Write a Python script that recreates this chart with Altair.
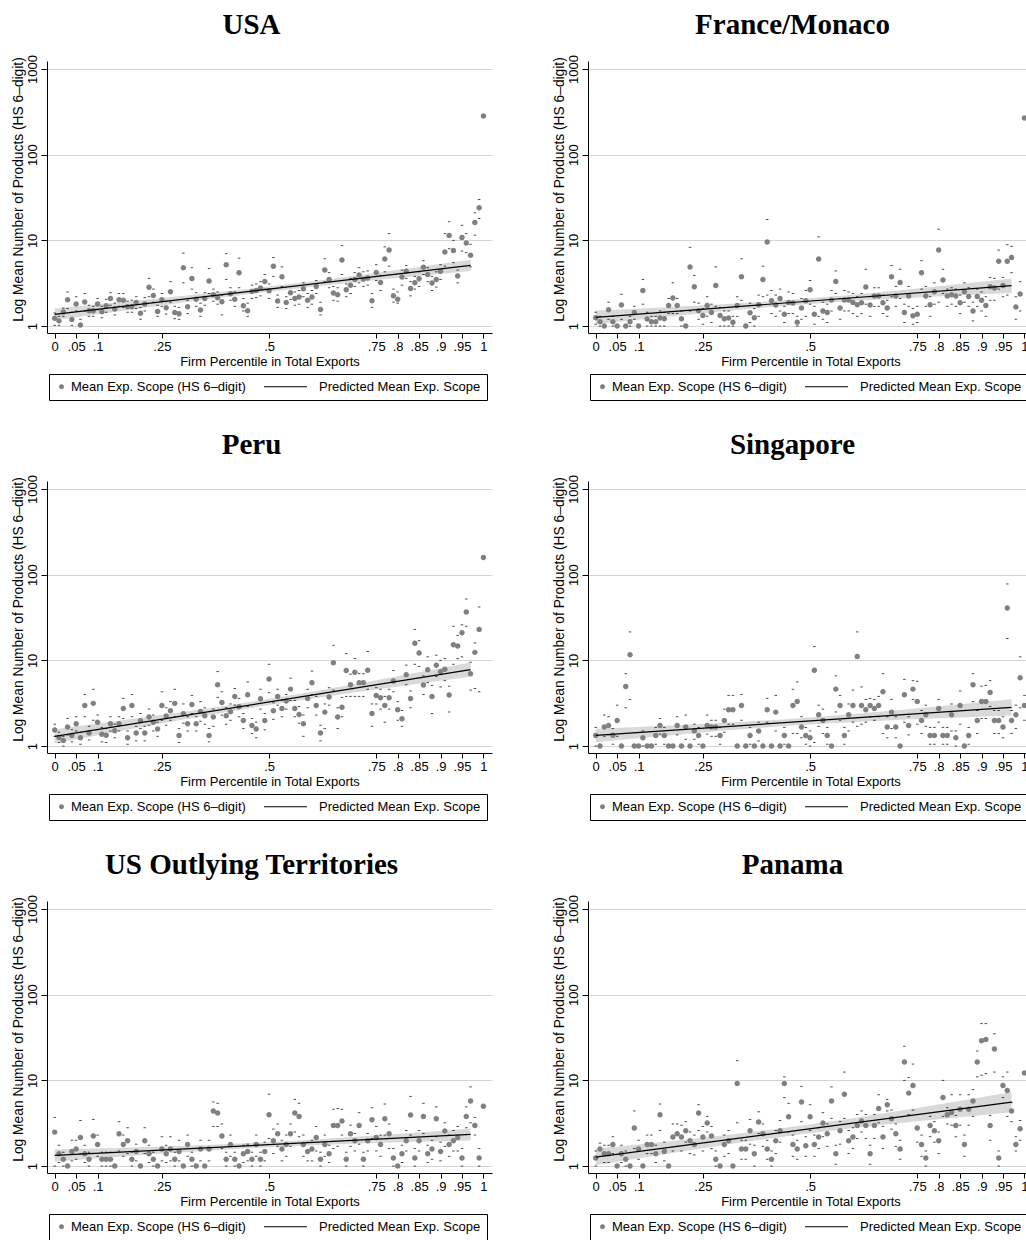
import altair as alt
import pandas as pd

# Firm percentile grid (0, .01, ..., 1)
PCT = [i / 100 for i in range(101)]

X_TICKS = [0, 0.05, 0.1, 0.25, 0.5, 0.75, 0.8, 0.85, 0.9, 0.95, 1]
Y_TICKS = [1, 10, 100, 1000]
FIT_X = [0, 0.97]
BAND_X = [0, 0.485, 0.97]

DOT_LABEL = "Mean Exp. Scope (HS 6–digit)"
FIT_LABEL = "Predicted Mean Exp. Scope"
X_TITLE = "Firm Percentile in Total Exports"
Y_TITLE = "Log Mean Number of Products (HS 6–digit)"

NAMES = ["USA", "France/Monaco", "Peru", "Singapore",
         "US Outlying Territories", "Panama"]

# ---------------- USA ----------------
USA_MEAN = [1.23, 1.15, 1.46, 2.03, 1.19, 1.81, 1.03, 1.91, 1.51, 1.51,
            1.81, 1.47, 1.73, 2.1, 1.58, 2.03, 2.0, 1.68, 1.68, 1.89,
            1.41, 1.81, 2.83, 2.28, 1.48, 2.03, 1.64, 2.52, 1.44, 1.39,
            4.8, 1.68, 3.6, 2.06, 1.54, 2.1, 3.35, 2.32, 2.14, 1.92,
            5.2, 2.38, 2.06, 4.19, 1.73, 1.51, 2.54, 2.6, 2.78, 3.32,
            2.58, 5.0, 1.96, 3.76, 1.89, 2.45, 2.1, 2.18, 2.73, 2.0,
            2.18, 2.9, 1.56, 4.5, 3.5, 2.43, 2.32, 5.9, 2.65, 3.0,
            3.5, 3.94, 3.53, 3.63, 1.98, 4.23, 3.23, 6.05, 7.7, 2.26,
            2.06, 3.73, 4.35, 2.75, 3.2, 3.57, 4.85, 4.0, 3.18, 3.5,
            4.35, 7.3, 11.4, 7.6, 3.83, 10.8, 9.3, 6.7, 16.2, 24,
            283]
USA_HI = [1.42, 1.3, 1.62, 2.5, 1.45, 2.2, 1.2, 2.4, 1.75, 1.7,
          2.1, 1.7, 2.05, 2.45, 1.85, 2.4, 2.4, 1.95, 2.0, 2.2,
          1.65, 2.15, 3.6, 2.7, 1.75, 2.4, 1.95, 3.3, 1.7, 1.65,
          7.1, 2.0, 4.8, 2.45, 1.85, 2.45, 4.7, 2.7, 2.5, 2.3,
          7.0, 2.8, 2.5, 6.2, 2.1, 1.85, 3.0, 3.1, 3.3, 4.0,
          3.1, 6.3, 2.3, 4.9, 2.2, 2.9, 2.5, 2.6, 3.2, 2.4,
          2.6, 3.4, 1.9, 6.1, 4.2, 2.9, 2.8, 8.7, 3.1, 3.6,
          4.2, 4.8, 4.3, 4.4, 2.4, 5.2, 3.9, 8.4, 12, 2.7,
          2.5, 4.5, 5.1, 3.3, 3.8, 4.3, 5.8, 4.8, 3.8, 4.3,
          5.2, 12, 16.5, 10, 4.5, 15, 12, 9, 21, 30,
          283]
USA_LO = [1.02, 1.02, 1.3, 1.6, 1.02, 1.5, 1.0, 1.5, 1.3, 1.3,
          1.55, 1.25, 1.45, 1.75, 1.35, 1.7, 1.65, 1.45, 1.45, 1.6,
          1.2, 1.5, 2.2, 1.9, 1.3, 1.7, 1.38, 1.9, 1.22, 1.2,
          3.2, 1.4, 2.7, 1.7, 1.3, 1.75, 2.4, 1.95, 1.8, 1.35,
          3.5, 2.0, 1.7, 2.8, 1.5, 1.3, 2.1, 2.15, 2.25, 2.7,
          2.1, 3.8, 1.65, 2.9, 1.6, 2.05, 1.75, 1.8, 2.2, 1.65,
          1.8, 2.4, 1.35, 3.3, 2.8, 2.0, 1.95, 4.0, 2.2, 2.4,
          2.9, 3.2, 2.9, 3.0, 1.65, 3.4, 2.6, 4.3, 5.0, 1.9,
          1.85, 3.0, 3.6, 2.25, 2.7, 2.9, 4.0, 3.3, 2.6, 2.85,
          3.5, 5.0, 8.0, 5.5, 3.2, 7.5, 7.2, 4.9, 11.5, 18,
          283]
USA_FIT = [1.37, 5.11]
USA_BAND_LO = [1.17, 2.47, 4.38]
USA_BAND_HI = [1.60, 2.84, 5.96]

# ---------------- France/Monaco ----------------
FRA_MEAN = [1.25, 1.12, 1.0, 1.55, 1.12, 1.0, 1.76, 1.0, 1.12, 1.44,
            1.0, 2.6, 1.21, 1.12, 1.12, 1.24, 1.22, 1.74, 2.12, 1.74,
            1.22, 1.0, 4.9, 2.88, 1.51, 1.33, 1.74, 1.44, 2.98, 1.33,
            1.22, 1.24, 1.11, 1.74, 3.76, 1.0, 1.43, 1.25, 1.77, 3.5,
            9.6, 1.98, 1.76, 2.1, 1.37, 1.89, 1.86, 1.11, 1.62, 1.98,
            2.65, 1.37, 6.05, 1.5, 1.44, 2.01, 3.32, 1.62, 2.01, 2.01,
            1.89, 1.77, 1.87, 2.85, 1.76, 2.24, 2.24, 1.87, 1.62, 3.76,
            2.24, 3.23, 1.44, 2.24, 1.32, 1.37, 4.19, 2.24, 1.77, 2.52,
            7.7, 3.44, 2.24, 2.32, 2.24, 1.87, 2.52, 2.22, 1.5, 2.22,
            2.0, 1.74, 2.88, 2.78, 5.7, 2.98, 5.7, 6.3, 1.67, 2.36,
            268]
FRA_HI = [1.45, 1.3, 1.0, 1.9, 1.3, 1.0, 2.35, 1.0, 1.3, 1.7,
          1.0, 3.5, 1.45, 1.3, 1.3, 1.5, 1.45, 2.1, 3.2, 2.1,
          1.5, 1.0, 8.3, 3.9, 1.85, 1.6, 2.2, 1.8, 4.9, 1.65,
          1.5, 1.5, 1.3, 2.2, 6.1, 1.0, 1.85, 1.6, 2.3, 5.0,
          17.5, 2.6, 2.3, 2.7, 1.7, 2.5, 2.4, 1.3, 2.1, 2.6,
          3.4, 1.7, 11, 1.9, 1.8, 2.6, 4.4, 2.1, 2.6, 2.5,
          2.4, 2.2, 2.4, 4.6, 2.2, 2.8, 2.8, 2.3, 2.0, 5.1,
          2.9, 4.6, 1.8, 2.9, 1.6, 1.7, 5.8, 2.9, 2.2, 3.2,
          13.5, 4.6, 2.7, 2.8, 2.7, 2.3, 3.2, 2.8, 1.9, 2.7,
          2.5, 2.2, 3.7, 3.6, 7.7, 3.7, 8.9, 8.5, 2.2, 3.3,
          268]
FRA_LO = [1.05, 1.0, 1.0, 1.2, 1.0, 1.0, 1.2, 1.0, 1.0, 1.2,
          1.0, 1.8, 1.0, 1.0, 1.0, 1.0, 1.0, 1.4, 1.4, 1.4,
          1.0, 1.0, 1.5, 1.9, 1.2, 1.05, 1.3, 1.1, 1.7, 1.0,
          1.0, 1.0, 1.0, 1.3, 2.0, 1.0, 1.1, 1.0, 1.3, 2.2,
          2.3, 1.4, 1.3, 1.5, 1.1, 1.4, 1.4, 1.0, 1.2, 1.3,
          1.8, 1.05, 1.3, 1.2, 1.1, 1.5, 2.4, 1.2, 1.5, 1.5,
          1.4, 1.3, 1.4, 1.8, 1.3, 1.7, 1.7, 1.4, 1.3, 2.2,
          1.7, 2.1, 1.1, 1.7, 1.05, 1.1, 2.7, 1.7, 1.3, 1.8,
          1.9, 2.4, 1.7, 1.8, 1.7, 1.4, 1.9, 1.7, 1.15, 1.7,
          1.5, 1.3, 2.0, 2.0, 2.7, 2.2, 2.3, 4.2, 1.2, 1.5,
          268]
FRA_FIT = [1.26, 2.96]
FRA_BAND_LO = [1.05, 1.79, 2.43]
FRA_BAND_HI = [1.52, 2.08, 3.6]

# ---------------- Peru ----------------
PER_MEAN = [1.54, 1.26, 1.16, 1.67, 1.33, 1.82, 1.25, 2.98, 1.42, 3.15,
            1.9, 1.37, 1.34, 1.82, 1.51, 1.82, 2.75, 1.25, 2.98, 1.42,
            1.97, 1.42, 2.18, 1.9, 1.58, 2.98, 2.24, 2.58, 3.15, 1.33,
            2.38, 1.82, 3.06, 1.82, 2.54, 2.26, 1.33, 2.18, 5.2, 3.23,
            2.26, 2.52, 3.8, 2.88, 1.99, 3.97, 1.74, 1.58, 3.57, 1.99,
            6.06, 2.58, 3.8, 2.75, 3.35, 4.62, 2.75, 2.34, 1.82, 3.6,
            5.5, 2.98, 1.42, 2.49, 3.73, 9.4, 2.18, 2.83, 7.6, 5.2,
            7.25, 5.5, 5.5, 7.65, 2.4, 3.9, 3.66, 2.98, 3.66, 5.74,
            2.65, 2.08, 6.8, 3.6, 15.8, 12.2, 5.15, 7.8, 3.8, 8.8,
            7.35, 7.9, 3.94, 15.2, 14.7, 21, 36.7, 7.0, 12.4, 23,
            159]
PER_HI = [1.8, 1.45, 1.3, 2.1, 1.55, 2.2, 1.45, 4.0, 1.7, 4.6,
          2.3, 1.65, 1.6, 2.2, 1.8, 2.2, 3.6, 1.5, 4.0, 1.7,
          2.4, 1.7, 2.7, 2.3, 1.9, 4.3, 2.8, 3.3, 4.6, 1.6,
          3.1, 2.2, 3.9, 2.2, 3.3, 2.8, 1.6, 2.7, 7.4, 4.3,
          2.8, 3.1, 4.7, 3.6, 2.4, 5.6, 2.1, 1.9, 4.6, 2.4,
          9.0, 3.2, 4.6, 3.4, 4.0, 6.2, 3.4, 2.9, 2.3, 4.6,
          7.5, 3.8, 1.75, 3.1, 4.8, 15, 2.8, 3.7, 12, 6.9,
          10.5, 7.0, 7.0, 12.7, 3.1, 4.8, 4.6, 3.8, 4.6, 7.6,
          3.3, 2.6, 8.8, 4.4, 23, 17, 6.6, 11, 5.1, 11.5,
          10, 10.5, 5.0, 25, 19.5, 26, 52, 9.5, 16, 42,
          159]
PER_LO = [1.3, 1.1, 1.0, 1.35, 1.12, 1.5, 1.05, 2.2, 1.18, 2.0,
          1.55, 1.12, 1.1, 1.5, 1.25, 1.5, 2.1, 1.05, 2.2, 1.15,
          1.6, 1.15, 1.75, 1.5, 1.3, 2.0, 1.75, 2.0, 2.2, 1.1,
          1.85, 1.5, 2.4, 1.5, 1.95, 1.8, 1.12, 1.7, 3.7, 2.3,
          1.8, 2.0, 3.0, 2.2, 1.6, 2.9, 1.4, 1.25, 2.7, 1.55,
          4.2, 2.05, 3.0, 2.2, 2.7, 3.4, 2.2, 1.85, 1.3, 2.8,
          4.0, 2.3, 1.15, 1.6, 3.0, 4.5, 1.6, 2.2, 3.8, 3.8,
          3.8, 3.8, 3.8, 4.6, 1.7, 3.1, 2.7, 1.9, 2.7, 4.3,
          2.0, 1.7, 5.2, 2.8, 9.0, 8.5, 4.0, 5.5, 2.4, 6.5,
          4.9, 5.8, 2.5, 9.0, 10.5, 11, 25, 4.5, 4.7, 4.3,
          159]
PER_FIT = [1.30, 7.8]
PER_BAND_LO = [1.08, 2.93, 6.45]
PER_BAND_HI = [1.57, 3.45, 9.43]

# ---------------- Singapore ----------------
SGP_MEAN = [1.33, 1.0, 1.67, 1.74, 1.34, 1.99, 1.0, 4.97, 11.6, 1.0,
            1.0, 1.25, 1.0, 1.0, 1.33, 1.74, 1.33, 1.0, 1.0, 1.74,
            1.0, 1.67, 1.0, 1.5, 1.33, 1.0, 1.74, 1.67, 1.67, 1.33,
            1.99, 2.65, 2.65, 1.0, 2.98, 1.0, 1.33, 1.0, 1.5, 1.0,
            2.65, 1.0, 2.49, 1.0, 1.33, 1.0, 2.98, 3.32, 1.67, 1.33,
            1.25, 7.65, 2.32, 1.99, 1.33, 1.0, 4.62, 2.98, 1.33, 2.32,
            2.98, 11.1, 2.98, 2.65, 2.98, 2.75, 2.98, 4.3, 1.67, 2.49,
            1.67, 1.0, 3.97, 1.74, 4.62, 3.32, 1.99, 2.32, 1.33, 1.33,
            2.75, 1.33, 1.33, 2.32, 1.25, 2.98, 1.0, 1.33, 5.2, 1.99,
            3.32, 3.32, 4.23, 1.99, 1.99, 1.67, 40.8, 1.99, 2.32, 6.28,
            2.98]
SGP_HI = [1.65, 1.0, 2.3, 2.2, 1.6, 3.0, 1.0, 7.0, 21.5, 1.0,
          1.0, 1.5, 1.0, 1.0, 1.65, 2.1, 1.65, 1.0, 1.0, 2.2,
          1.0, 2.3, 1.0, 1.8, 1.65, 1.0, 2.3, 2.0, 2.0, 1.65,
          2.7, 3.9, 3.9, 1.0, 4.0, 1.0, 1.65, 1.0, 1.9, 1.0,
          3.6, 1.0, 3.9, 1.0, 1.65, 1.0, 4.6, 5.6, 2.2, 1.65,
          1.5, 14.5, 3.0, 2.7, 1.65, 1.0, 6.6, 3.9, 1.65, 3.1,
          4.5, 21.5, 4.9, 3.5, 3.6, 3.5, 3.8, 7.0, 2.2, 3.5,
          2.2, 1.0, 6.0, 2.2, 5.8, 5.7, 2.6, 3.0, 1.65, 1.65,
          3.5, 1.65, 1.65, 3.1, 1.5, 4.4, 1.0, 1.65, 7.0, 2.6,
          5.0, 5.1, 5.8, 2.6, 2.6, 2.2, 78, 2.6, 3.0, 11,
          3.9]
SGP_LO = [1.0, 1.0, 1.3, 1.35, 1.05, 1.3, 1.0, 2.8, 3.5, 1.0,
          1.0, 1.0, 1.0, 1.0, 1.05, 1.38, 1.05, 1.0, 1.0, 1.35,
          1.0, 1.2, 1.0, 1.2, 1.05, 1.0, 1.38, 1.3, 1.3, 1.05,
          1.45, 1.8, 1.8, 1.0, 2.0, 1.0, 1.05, 1.0, 1.15, 1.0,
          1.9, 1.0, 1.5, 1.0, 1.05, 1.0, 1.4, 1.4, 1.25, 1.05,
          1.0, 1.1, 1.7, 1.4, 1.05, 1.0, 2.5, 2.0, 1.05, 1.5,
          1.9, 1.7, 1.8, 1.9, 2.2, 2.0, 2.2, 1.4, 1.25, 1.6,
          1.25, 1.0, 1.9, 1.35, 3.5, 1.8, 1.4, 1.7, 1.05, 1.05,
          1.9, 1.05, 1.05, 1.5, 1.0, 1.8, 1.0, 1.05, 3.3, 1.4,
          2.1, 2.1, 2.9, 1.4, 1.4, 1.25, 18, 1.4, 1.6, 2.8,
          2.0]
SGP_FIT = [1.33, 2.83]
SGP_BAND_LO = [1.11, 1.77, 2.28]
SGP_BAND_HI = [1.59, 2.13, 3.51]

# ---------------- US Outlying Territories ----------------
UMI_MEAN = [2.49, 1.39, 1.2, 1.0, 1.48, 1.58, 2.16, 1.39, 1.2, 2.24,
            1.79, 1.2, 1.2, 1.2, 1.0, 2.38, 1.79, 1.98, 1.2, 1.48,
            1.0, 1.98, 1.39, 1.2, 1.0, 1.58, 1.39, 1.58, 1.2, 1.48,
            1.0, 1.79, 1.2, 1.0, 1.58, 1.0, 1.58, 4.38, 4.16, 2.24,
            1.2, 1.79, 1.2, 1.0, 1.39, 1.48, 1.2, 1.79, 1.2, 1.48,
            3.98, 1.98, 2.38, 1.58, 1.79, 2.38, 4.16, 3.8, 1.79, 1.48,
            1.58, 2.16, 1.2, 1.79, 1.39, 2.98, 2.98, 3.35, 1.2, 2.38,
            1.98, 2.98, 1.2, 1.98, 3.47, 2.16, 1.79, 3.57, 2.38, 1.24,
            1.0, 1.39, 1.98, 3.94, 1.24, 1.98, 3.8, 1.39, 1.58, 3.57,
            1.48, 2.56, 1.79, 1.98, 2.16, 1.24, 3.8, 5.74, 2.98, 1.24,
            5.0]
UMI_HI = [3.7, 1.75, 1.45, 1.0, 2.0, 2.0, 3.4, 1.75, 1.45, 3.5,
          2.3, 1.45, 1.45, 1.45, 1.0, 3.3, 2.3, 2.8, 1.45, 1.8,
          1.0, 2.8, 1.75, 1.45, 1.0, 2.2, 1.75, 2.2, 1.45, 2.0,
          1.0, 2.3, 1.45, 1.0, 2.0, 1.0, 2.0, 5.6, 5.4, 3.1,
          1.45, 2.3, 1.45, 1.0, 1.75, 1.8, 1.45, 2.3, 1.45, 1.9,
          6.9, 2.7, 3.1, 2.0, 2.3, 3.1, 6.0, 5.4, 2.3, 1.9,
          2.0, 2.9, 1.45, 2.3, 1.75, 4.6, 4.7, 4.6, 1.45, 3.0,
          2.4, 4.2, 1.45, 2.4, 4.8, 2.9, 2.3, 5.3, 3.1, 1.6,
          1.0, 1.75, 2.6, 6.5, 1.6, 2.6, 5.4, 1.75, 2.0, 4.9,
          1.9, 3.2, 2.3, 2.6, 2.9, 1.6, 4.9, 8.4, 3.7, 1.6,
          5.0]
UMI_LO = [1.0, 1.1, 1.0, 1.0, 1.15, 1.2, 1.4, 1.1, 1.0, 1.4,
          1.3, 1.0, 1.0, 1.0, 1.0, 1.5, 1.3, 1.4, 1.0, 1.15,
          1.0, 1.4, 1.1, 1.0, 1.0, 1.15, 1.1, 1.15, 1.0, 1.15,
          1.0, 1.3, 1.0, 1.0, 1.15, 1.0, 1.15, 2.9, 2.9, 1.6,
          1.0, 1.3, 1.0, 1.0, 1.1, 1.15, 1.0, 1.3, 1.0, 1.15,
          2.1, 1.4, 1.7, 1.15, 1.3, 1.7, 2.5, 2.2, 1.3, 1.15,
          1.15, 1.5, 1.0, 1.3, 1.1, 1.6, 1.7, 2.3, 1.0, 1.7,
          1.5, 1.8, 1.0, 1.5, 2.1, 1.5, 1.3, 2.3, 1.6, 1.0,
          1.0, 1.1, 1.5, 2.3, 1.0, 1.5, 2.4, 1.1, 1.2, 2.2,
          1.15, 1.7, 1.3, 1.5, 1.5, 1.0, 2.8, 3.2, 2.3, 1.0,
          5.0]
UMI_FIT = [1.33, 2.34]
UMI_BAND_LO = [1.13, 1.65, 1.99]
UMI_BAND_HI = [1.56, 1.89, 2.75]

# ---------------- Panama ----------------
PAN_MEAN = [1.24, 1.58, 1.39, 1.39, 1.79, 1.0, 1.39, 1.2, 1.0, 2.78,
            1.58, 1.0, 1.79, 1.79, 1.39, 3.98, 1.48, 1.0, 2.18, 2.38,
            2.18, 2.58, 1.98, 1.79, 4.16, 2.18, 3.18, 2.24, 1.2, 1.0,
            1.79, 1.98, 1.0, 9.2, 1.58, 1.58, 2.58, 1.39, 3.27, 2.38,
            1.58, 1.2, 1.98, 2.58, 9.2, 3.76, 1.79, 1.58, 5.6, 1.73,
            3.76, 1.79, 2.18, 3.18, 2.38, 5.74, 1.39, 2.58, 6.9, 1.98,
            2.18, 2.98, 3.35, 2.98, 1.39, 2.98, 4.7, 2.18, 5.2, 3.57,
            2.38, 1.58, 16.4, 7.1, 8.7, 2.78, 1.79, 1.24, 2.98, 2.58,
            1.98, 6.3, 3.98, 4.23, 2.98, 4.6, 1.79, 4.6, 5.74, 16.4,
            29, 30, 2.98, 23.2, 1.24, 8.7, 7.6, 4.38, 1.79, 2.73,
            12.2]
PAN_HI = [1.5, 1.85, 1.75, 1.75, 2.2, 1.0, 1.75, 1.5, 1.0, 4.4,
          2.0, 1.0, 2.3, 2.3, 1.75, 5.3, 1.9, 1.0, 3.1, 3.1,
          3.0, 3.3, 2.5, 2.3, 5.2, 2.9, 3.8, 2.9, 1.5, 1.0,
          2.3, 2.6, 1.0, 17, 2.0, 2.0, 3.5, 1.75, 4.3, 3.1,
          2.0, 1.5, 2.6, 3.4, 11, 5.4, 2.3, 2.0, 8.5, 2.2,
          5.2, 2.3, 2.8, 4.2, 3.1, 8.4, 1.75, 3.3, 12.5, 2.6,
          2.8, 4.0, 4.4, 4.0, 1.75, 4.0, 6.8, 2.9, 6.0, 4.5,
          3.1, 2.0, 25, 10.8, 15.5, 4.0, 2.3, 1.5, 3.8, 3.3,
          2.5, 10, 4.8, 6.8, 3.9, 6.8, 2.3, 6.8, 7.8, 22,
          46, 46, 3.9, 35, 1.5, 11, 12.5, 5.5, 2.2, 3.4,
          12.2]
PAN_LO = [1.0, 1.3, 1.1, 1.1, 1.4, 1.0, 1.1, 1.0, 1.0, 1.6,
          1.2, 1.0, 1.4, 1.4, 1.1, 2.6, 1.15, 1.0, 1.5, 1.7,
          1.5, 1.9, 1.4, 1.35, 2.6, 1.5, 2.5, 1.6, 1.0, 1.0,
          1.3, 1.4, 1.0, 3.2, 1.2, 1.2, 1.8, 1.0, 2.4, 1.7,
          1.2, 1.0, 1.4, 1.9, 6.3, 2.5, 1.3, 1.2, 3.3, 1.3,
          2.6, 1.3, 1.6, 2.2, 1.7, 3.6, 1.05, 1.8, 3.6, 1.4,
          1.6, 2.1, 2.5, 2.1, 1.05, 2.1, 3.2, 1.6, 4.4, 2.7,
          1.7, 1.2, 10, 4.0, 4.5, 1.9, 1.3, 1.0, 2.2, 1.9,
          1.4, 3.8, 3.1, 3.0, 2.2, 3.0, 1.3, 3.0, 3.8, 11,
          11.5, 12, 2.0, 12.5, 1.0, 6.3, 3.8, 3.3, 1.5, 2.0,
          12.2]
PAN_FIT = [1.27, 5.58]
PAN_BAND_LO = [1.02, 2.37, 4.26]
PAN_BAND_HI = [1.59, 2.99, 7.31]

PANELS = [
    (NAMES[0], USA_MEAN, USA_HI, USA_LO, USA_FIT, USA_BAND_LO, USA_BAND_HI),
    (NAMES[1], FRA_MEAN, FRA_HI, FRA_LO, FRA_FIT, FRA_BAND_LO, FRA_BAND_HI),
    (NAMES[2], PER_MEAN, PER_HI, PER_LO, PER_FIT, PER_BAND_LO, PER_BAND_HI),
    (NAMES[3], SGP_MEAN, SGP_HI, SGP_LO, SGP_FIT, SGP_BAND_LO, SGP_BAND_HI),
    (NAMES[4], UMI_MEAN, UMI_HI, UMI_LO, UMI_FIT, UMI_BAND_LO, UMI_BAND_HI),
    (NAMES[5], PAN_MEAN, PAN_HI, PAN_LO, PAN_FIT, PAN_BAND_LO, PAN_BAND_HI),
]

SANS = "Liberation Sans"
SERIF = "Liberation Serif"
DOT_GRAY = "#808080"
BAND_GRAY = "#d9d9d9"

# legend glyphs: a small disc and a short horizontal rule to its left
DOT_PATH = "M-1,0A1,1,0,1,1,1,0A1,1,0,1,1,-1,0Z"
RULE_PATH = "M-18.2,-0.24H-1V0.24H-18.2Z"

PLOT_W = 445
PLOT_H = 272

x_scale = alt.Scale(domain=[-0.018, 1.02], nice=False, zero=False)
y_scale = alt.Scale(type="log", domain=[0.83, 1240], nice=False)


def make_panel(name, mean, hi, lo, fit, band_lo, band_hi):
    pts = pd.DataFrame({"pct": PCT, "mean": mean, "hi": hi, "lo": lo,
                        "series": DOT_LABEL})
    fit_df = pd.DataFrame({"pct": FIT_X, "fit": fit})
    band_df = pd.DataFrame({"pct": BAND_X, "lo": band_lo, "hi": band_hi})

    x_enc = alt.X(
        "pct:Q", scale=x_scale,
        axis=alt.Axis(values=X_TICKS, title=X_TITLE,
                      labelExpr="replace(toString(datum.value), '0.', '.')"),
    )
    y_axis = alt.Axis(values=Y_TICKS, format="d", title=Y_TITLE)

    band = alt.Chart(band_df).mark_area(
        color=BAND_GRAY, opacity=1, interpolate="monotone"
    ).encode(
        x=x_enc,
        y=alt.Y("lo:Q", scale=y_scale, axis=y_axis),
        y2="hi:Q",
    )

    bounds = alt.Chart(pts).transform_fold(
        ["hi", "lo"], as_=["bound", "val"]
    ).mark_tick(orient="horizontal", size=2.5, thickness=1, color="black").encode(
        x=x_enc,
        y=alt.Y("val:Q", scale=y_scale, axis=y_axis),
    )

    legend = alt.Legend(
        title=None, orient="none", legendX=2, legendY=313,
        direction="horizontal", strokeColor="black", fillColor="white",
        padding=6, cornerRadius=0, columnPadding=18, labelLimit=400,
        labelFont=SANS, labelFontSize=13, labelColor="black", labelOffset=3,
        symbolSize=25, symbolStrokeWidth=0, symbolOpacity=1,
    )
    dots = alt.Chart(pts).mark_point(
        filled=True, size=30, opacity=1, strokeWidth=0
    ).encode(
        x=x_enc,
        y=alt.Y("mean:Q", scale=y_scale, axis=y_axis),
        color=alt.Color("series:N", legend=legend,
                        scale=alt.Scale(domain=[DOT_LABEL, FIT_LABEL],
                                        range=[DOT_GRAY, "black"])),
        shape=alt.Shape("series:N", legend=legend,
                        scale=alt.Scale(domain=[DOT_LABEL, FIT_LABEL],
                                        range=[DOT_PATH, RULE_PATH])),
    )

    line = alt.Chart(fit_df).mark_line(color="black", strokeWidth=1.2).encode(
        x=x_enc,
        y=alt.Y("fit:Q", scale=y_scale, axis=y_axis),
    )

    return alt.layer(band, bounds, dots, line).properties(
        width=PLOT_W, height=PLOT_H,
        title=alt.TitleParams(text=name, font=SERIF, fontSize=29,
                              fontWeight="bold", color="black",
                              anchor="middle", offset=15, dx=-18),
    )


panels = [make_panel(*p) for p in PANELS]

chart = alt.concat(
    *panels, columns=2, spacing={"row": 29, "column": 59}
).resolve_scale(
    color="independent", shape="independent"
).resolve_legend(
    color="independent", shape="independent"
).properties(
    background="white",
    padding={"left": 10, "top": 10, "right": -7, "bottom": 0},
).configure_view(
    strokeWidth=0
).configure_axis(
    labelFont=SANS, labelFontSize=13, labelColor="black",
    titleFont=SANS, titleFontSize=13, titleColor="black",
    titleFontWeight="normal", domainColor="black", domainWidth=1,
    tickColor="black", tickWidth=1, labelFlush=False, labelOverlap=False,
    labelBound=False,
).configure_axisX(
    grid=False, tickSize=5, labelPadding=2, titlePadding=2,
).configure_axisY(
    grid=True, gridColor="#d4d4d4", gridWidth=1.2, tickSize=6,
    labelAngle=270, labelAlign="center", labelBaseline="bottom",
    labelPadding=2, titleAngle=270, titleAlign="center",
    titleBaseline="bottom", titleX=-22, titleY=128, titleFontSize=13.8,
)

chart.save("out.html", embed_options={"renderer": "svg", "actions": False})
